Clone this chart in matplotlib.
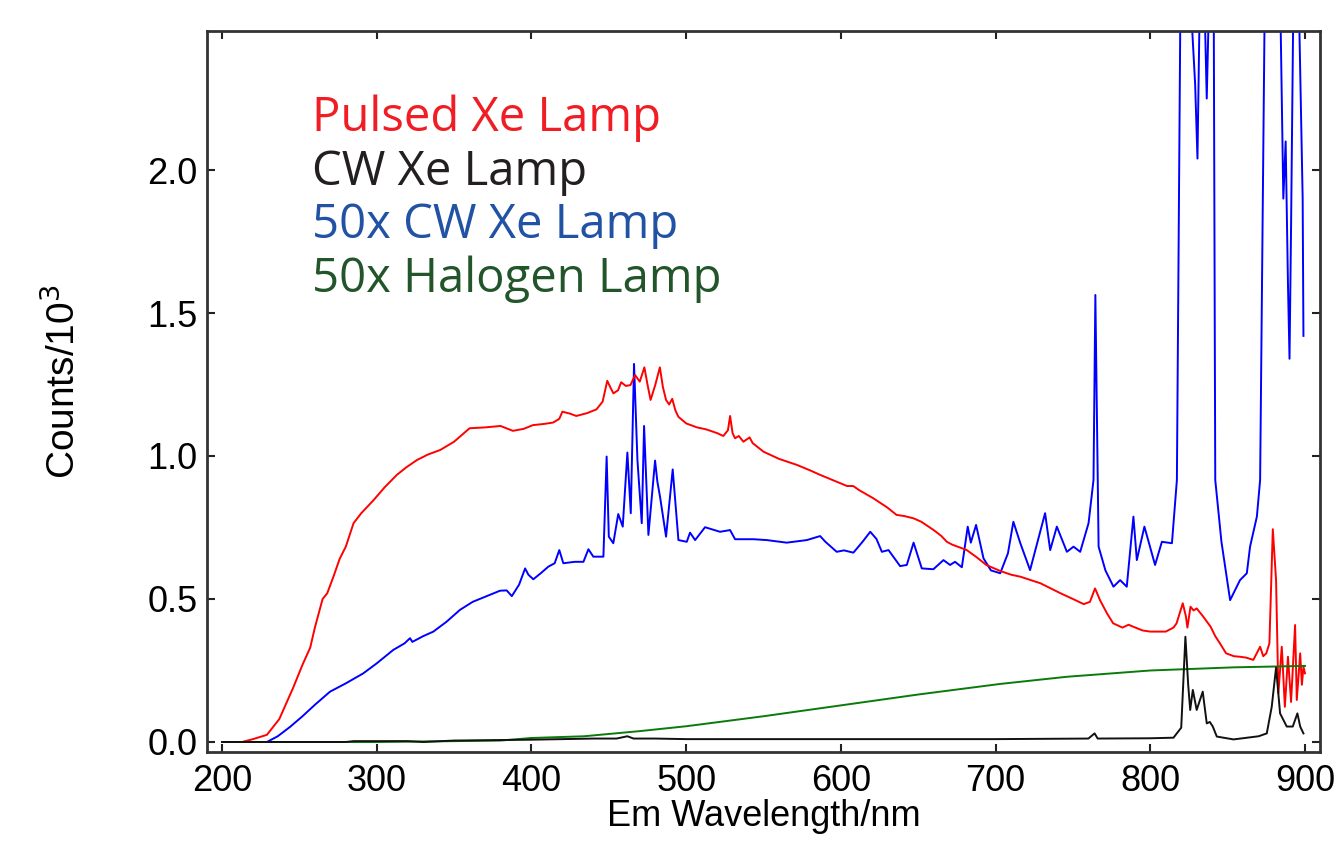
import matplotlib
matplotlib.use("Agg")
import matplotlib.pyplot as plt

plt.rcParams['font.family'] = ['Liberation Sans', 'DejaVu Sans']

# Pulsed Xe lamp (wavelength nm, counts/1e3)
pulsed_wl = [200, 213, 220, 229, 237, 246, 252, 257, 260, 265, 268, 272, 276, 280, 285, 290,
             298, 305, 313, 319, 326, 333, 341, 350, 360, 370, 380, 388, 395, 401, 408, 414,
             418, 420, 425, 429, 436, 442, 446, 449, 451, 453, 456, 458, 461, 464, 467, 470,
             473, 475, 477, 480, 483, 485, 487, 489, 491, 493, 495, 500, 507, 513, 520, 524,
             527, 528.4, 530, 531.6, 534, 537, 541, 543, 550, 560, 571.5, 580, 586.6, 595, 604,
             608, 612, 621, 630, 636, 641, 647, 652, 660, 665, 668.5, 672, 681.4, 688, 694,
             703, 710, 716, 729, 742, 750, 757, 761, 764.3, 767.5, 772, 776, 782, 786, 789,
             795, 800, 810, 815, 817, 821, 823, 824, 826, 828, 830, 834, 839, 842, 845, 849,
             854, 858, 862, 866.6, 871, 873, 875, 877, 879.2, 881.3, 882.8, 885, 887, 889,
             891, 893.6, 894.7, 896.9, 898, 899, 900]
pulsed_val = [0.0, 0.0, 0.01, 0.025, 0.08, 0.19, 0.27, 0.33, 0.40, 0.50, 0.52, 0.578, 0.64,
              0.683, 0.765, 0.80, 0.846, 0.89, 0.934, 0.96, 0.986, 1.005, 1.021, 1.05, 1.097,
              1.10, 1.105, 1.088, 1.095, 1.108, 1.112, 1.117, 1.13, 1.155, 1.148, 1.14, 1.15,
              1.163, 1.19, 1.263, 1.24, 1.219, 1.23, 1.258, 1.245, 1.248, 1.283, 1.26, 1.31,
              1.25, 1.196, 1.248, 1.31, 1.24, 1.196, 1.18, 1.20, 1.16, 1.137, 1.114, 1.10,
              1.093, 1.08, 1.07, 1.09, 1.14, 1.08, 1.062, 1.07, 1.05, 1.065, 1.045, 1.015,
              0.99, 0.969, 0.95, 0.934, 0.915, 0.895, 0.895, 0.88, 0.852, 0.82, 0.794, 0.79,
              0.782, 0.77, 0.741, 0.72, 0.70, 0.69, 0.671, 0.645, 0.619, 0.598, 0.585, 0.578,
              0.555, 0.52, 0.50, 0.482, 0.49, 0.537, 0.496, 0.45, 0.415, 0.40, 0.41, 0.403,
              0.39, 0.386, 0.386, 0.40, 0.415, 0.485, 0.44, 0.40, 0.473, 0.46, 0.467, 0.44,
              0.403, 0.37, 0.345, 0.31, 0.30, 0.298, 0.295, 0.287, 0.333, 0.30, 0.31, 0.345,
              0.744, 0.566, 0.17, 0.333, 0.123, 0.298, 0.14, 0.409, 0.147, 0.31, 0.2, 0.263,
              0.24]

# CW Xe lamp
cw_wl = [200, 280, 285, 320, 330, 350, 400, 420, 440, 455, 462, 466, 480, 500, 600, 700,
         760, 764, 766, 800, 815, 820, 822.7, 824.5, 825.8, 827.5, 830, 833.9, 836.5, 838.5,
         840.4, 843, 853.8, 870, 875.3, 878.5, 881.3, 883.9, 888.2, 892.1, 895.1, 896.9, 899]
cw_val = [0.0, 0.0, 0.003, 0.003, 0.0, 0.005, 0.008, 0.01, 0.012, 0.012, 0.02, 0.012, 0.012,
          0.01, 0.01, 0.01, 0.012, 0.03, 0.012, 0.013, 0.015, 0.05, 0.368, 0.2, 0.112, 0.182,
          0.112, 0.176, 0.065, 0.07, 0.054, 0.019, 0.009, 0.02, 0.03, 0.123, 0.26, 0.10,
          0.054, 0.054, 0.10, 0.054, 0.03]

# 50x CW Xe lamp
cw50_wl = [200, 220, 229, 236, 244, 252, 260, 269.8, 280, 291.3, 300, 310.7, 318, 321.5, 323,
           330, 336.6, 345, 353.8, 362, 371.1, 379.7, 384, 387.3, 392, 395.9, 398, 401.2, 406,
           410.9, 415, 418, 420.6, 428, 433.6, 436.8, 440, 446.5, 448.6, 450, 452.9, 456.1,
           459, 462, 464.2, 466.3, 468.5, 471.3, 472.8, 475.6, 479.9, 481.4, 483.1, 487,
           491.3, 495, 500.4, 502.5, 505.8, 512.2, 521.9, 528.4, 531.6, 543.5, 552.1, 565,
           578, 586.6, 590, 597.3, 602, 608.1, 614, 619, 623, 626.5, 630.8, 638.3, 642.6, 647,
           652.3, 659.8, 666.3, 670.6, 673.8, 678.2, 682, 684, 687.4, 692.2, 697, 703, 708,
           711.5, 716, 722.3, 727.7, 732, 735.3, 739.6, 746.1, 750.4, 754.7, 760.1, 763.3,
           764.5, 766.6, 771, 776.2, 780.5, 784.8, 789.1, 791.3, 796.2, 803.1, 807.5, 814,
           817.2, 819.5, 826, 829, 830.5, 832, 835, 836.5, 838, 841, 842, 846, 851.6, 853.8,
           858, 862.4, 864.5, 868.9, 871, 874, 884, 886, 887.5, 889, 890, 891, 892.5, 896,
           898.5, 899]
cw50_val = [0.0, 0.0, 0.0, 0.02, 0.053, 0.09, 0.13, 0.176, 0.205, 0.24, 0.275, 0.322, 0.345,
            0.363, 0.35, 0.37, 0.386, 0.42, 0.462, 0.49, 0.51, 0.529, 0.53, 0.51, 0.55, 0.607,
            0.585, 0.569, 0.59, 0.613, 0.625, 0.671, 0.625, 0.63, 0.63, 0.674, 0.648, 0.648,
            0.998, 0.718, 0.695, 0.797, 0.753, 1.012, 0.8, 1.322, 0.986, 0.765, 1.105, 0.724,
            0.984, 0.91, 0.858, 0.718, 0.953, 0.706, 0.70, 0.732, 0.706, 0.751, 0.735, 0.741,
            0.709, 0.709, 0.706, 0.697, 0.706, 0.72, 0.70, 0.665, 0.67, 0.662, 0.70, 0.735,
            0.71, 0.665, 0.671, 0.615, 0.619, 0.697, 0.607, 0.604, 0.636, 0.619, 0.63, 0.611,
            0.753, 0.697, 0.759, 0.642, 0.60, 0.59, 0.66, 0.77, 0.695, 0.601, 0.712, 0.80,
            0.671, 0.753, 0.665, 0.683, 0.665, 0.765, 0.916, 1.563, 0.683, 0.60, 0.543, 0.566,
            0.543, 0.788, 0.636, 0.753, 0.619, 0.70, 0.695, 0.916, 2.6, 2.6, 2.3, 2.04, 2.6,
            2.6, 2.25, 2.6, 2.6, 0.916, 0.70, 0.496, 0.52, 0.566, 0.59, 0.683, 0.788, 0.916,
            2.6, 2.6, 1.9, 2.1, 1.6, 1.34, 1.8, 2.6, 2.6, 1.9, 1.42]

# 50x halogen lamp
halogen_wl = [200, 300, 350, 380, 400, 434, 470, 500, 550, 600, 650, 703, 746, 800, 854, 900]
halogen_val = [0.0, 0.0, 0.003, 0.005, 0.014, 0.02, 0.038, 0.055, 0.09, 0.128, 0.166, 0.203,
               0.228, 0.25, 0.261, 0.266]

legend_labels = ['Pulsed Xe Lamp', 'CW Xe Lamp', '50x CW Xe Lamp', '50x Halogen Lamp']
legend_colors = ['#f01d24', '#231f20', '#2152a3', '#22552a']

fig = plt.figure(figsize=(13.34, 8.5), dpi=100)
ax = fig.add_axes([0.1552, 0.1153, 0.8343, 0.8482])

ax.plot(cw50_wl, cw50_val, color='#0000ff', lw=1.4)
ax.plot(pulsed_wl, pulsed_val, color='#ff0000', lw=1.4)
ax.plot(halogen_wl, halogen_val, color='#0a7a0a', lw=1.4)
ax.plot(cw_wl, cw_val, color='#111111', lw=1.4)

ax.set_xlim(190.3, 909.7)
ax.set_ylim(-0.035, 2.486)
ax.set_xticks([200, 300, 400, 500, 600, 700, 800, 900])
ax.set_yticks([0.0, 0.5, 1.0, 1.5, 2.0])
ax.set_yticklabels(['0.0', '0.5', '1.0', '1.5', '2.0'])
ax.tick_params(direction='in', length=6, width=1.5, top=True, right=True,
               labelsize=26, colors='#222222', labelcolor='black')
ax.tick_params(axis='x', pad=9)
ax.tick_params(axis='y', pad=7)
for s in ax.spines.values():
    s.set_linewidth(2)
    s.set_color('#333333')

ax.set_xlabel('Em Wavelength/nm', fontsize=26, labelpad=0)
ax.set_ylabel('Counts/10$^3$', fontsize=28)
ax.yaxis.set_label_coords(-0.111, 0.514)

# colored text stands in for a legend
for i, (lab, col) in enumerate(zip(legend_labels, legend_colors)):
    ax.text(0.0945, 0.8613 - i * 0.0745, lab, color=col, fontsize=34,
            family=['Open Sans', 'DejaVu Sans'], transform=ax.transAxes, va='baseline')

fig.savefig('out.png', dpi=100)
